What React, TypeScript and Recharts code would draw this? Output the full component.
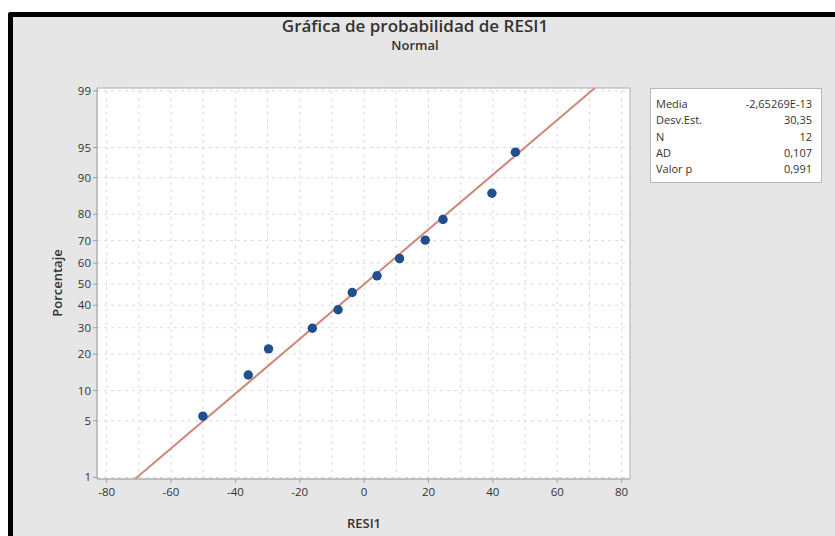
import React from 'react';
import {
  ScatterChart,
  Scatter,
  XAxis,
  YAxis,
  CartesianGrid,
  ReferenceLine,
  ReferenceArea,
} from 'recharts';

// ---- data ----
const residuals = [-50.1, -36.0, -29.7, -16.1, -8.1, -3.7, 4.0, 11.0, 19.0, 24.5, 39.7, 47.0];
const percents = [5.6, 13.7, 21.8, 29.8, 37.9, 46.0, 54.0, 62.1, 70.2, 78.2, 86.3, 94.4];
const xTicks = [-80, -60, -40, -20, 0, 20, 40, 60, 80];
const xGrid = [-80, -70, -60, -50, -40, -30, -20, -10, 0, 10, 20, 30, 40, 50, 60, 70, 80];
const yTickPercents = [1, 5, 10, 20, 30, 40, 50, 60, 70, 80, 90, 95, 99];
const xDomain = [-83, 82.6];
const yDomainPercent = [0.95, 99.09];
const fitMean = -2.65269e-13;
const fitSd = 30.35;
const statLabels = ['Media', 'Desv.Est.', 'N', 'AD', 'Valor p'];
const statValues = ['-2,65269E-13', '30,35', '12', '0,107', '0,991'];

// inverse of the standard normal CDF (probability-scale transform)
function probit(p: number): number {
  const a = [-3.969683028665376e1, 2.209460984245205e2, -2.759285104469687e2, 1.38357751867269e2, -3.066479806614716e1, 2.506628277459239];
  const b = [-5.447609879822406e1, 1.615858368580409e2, -1.556989798598866e2, 6.680131188771972e1, -1.328068155288572e1];
  const c = [-7.784894002430293e-3, -3.223964580411365e-1, -2.400758277161838, -2.549732539343734, 4.374664141464968, 2.938163982698783];
  const d = [7.784695709041462e-3, 3.224671290700398e-1, 2.445134137142996, 3.754408661907416];
  const pl = 0.02425;
  const ph = 1 - pl;
  if (p < pl) {
    const q = Math.sqrt(-2 * Math.log(p));
    return (((((c[0] * q + c[1]) * q + c[2]) * q + c[3]) * q + c[4]) * q + c[5]) / ((((d[0] * q + d[1]) * q + d[2]) * q + d[3]) * q + 1);
  }
  if (p > ph) {
    const q = Math.sqrt(-2 * Math.log(1 - p));
    return -(((((c[0] * q + c[1]) * q + c[2]) * q + c[3]) * q + c[4]) * q + c[5]) / ((((d[0] * q + d[1]) * q + d[2]) * q + d[3]) * q + 1);
  }
  const q = p - 0.5;
  const r = q * q;
  return ((((((a[0] * r + a[1]) * r + a[2]) * r + a[3]) * r + a[4]) * r + a[5]) * q) / (((((b[0] * r + b[1]) * r + b[2]) * r + b[3]) * r + b[4]) * r + 1);
}

const pts = residuals.map((x, i) => ({ x, z: probit(percents[i] / 100) }));
const yTickZ = yTickPercents.map((p) => probit(p / 100));
const yDomain = yDomainPercent.map((p) => probit(p / 100));
const fitSegment = [
  { x: fitMean + fitSd * yDomain[0], y: yDomain[0] },
  { x: fitMean + fitSd * yDomain[1], y: yDomain[1] },
];

const FONT = '"Open Sans", "Noto Sans", sans-serif';
const TXT = '#333333';

const Dot = (props: any) => {
  const { cx, cy } = props;
  if (cx == null || cy == null) return null;
  return <circle cx={cx} cy={cy} r={4.7} fill="#1f4f8f" />;
};

export default function App() {
  return (
    <div
      style={{
        position: 'absolute',
        left: 0,
        top: 0,
        width: 835,
        height: 536,
        overflow: 'hidden',
        background: '#ffffff',
        fontFamily: FONT,
      }}
    >
      <div
        style={{
          position: 'absolute',
          left: 8,
          top: 12,
          width: 840,
          height: 540,
          borderLeft: '5px solid #000',
          borderTop: '5px solid #000',
          borderTopLeftRadius: 3,
          background: '#e6e6e6',
        }}
      />
      <div style={{ position: 'absolute', left: 0, top: 0 }}>
        <ScatterChart width={835} height={536} margin={{ top: 88, right: 205, bottom: 27, left: 0 }}>
          <CartesianGrid
            fill="#ffffff"
            vertical={false}
            stroke="#dadada"
            strokeDasharray="3 4"
          />
          {xGrid.map((v) => (
            <ReferenceLine key={v} x={v} stroke="#dadada" strokeDasharray="3 4" />
          ))}
          <XAxis
            type="number"
            dataKey="x"
            domain={xDomain}
            ticks={xTicks}
            allowDataOverflow
            height={30}
            tickSize={4}
            axisLine={{ stroke: '#b0b0b0' }}
            tickLine={{ stroke: '#a0a0a0' }}
            tick={{ fill: TXT, fontSize: 11.5, fontFamily: FONT, dy: 3 }}
            interval={0}
          />
          <YAxis
            type="number"
            dataKey="z"
            domain={yDomain}
            ticks={yTickZ}
            allowDataOverflow
            width={97}
            tickSize={4}
            axisLine={{ stroke: '#b0b0b0' }}
            tickLine={{ stroke: '#a0a0a0' }}
            tick={{ fill: TXT, fontSize: 11.5, fontFamily: FONT }}
            interval={0}
            tickFormatter={(v: number) => {
              const i = yTickZ.findIndex((z) => Math.abs(z - v) < 1e-6);
              return i >= 0 ? String(yTickPercents[i]) : '';
            }}
          />
          <ReferenceArea
            x1={xDomain[0]}
            x2={xDomain[1]}
            y1={yDomain[0]}
            y2={yDomain[1]}
            fill="none"
            stroke="#b0b0b0"
            ifOverflow="visible"
          />
          <ReferenceLine
            segment={fitSegment}
            stroke="#cf877c"
            strokeWidth={2}
            ifOverflow="visible"
          />
          <Scatter data={pts} shape={Dot} isAnimationActive={false} />
        </ScatterChart>
      </div>

      {/* titles */}
      <div
        style={{
          position: 'absolute',
          left: 0,
          top: 14,
          width: 830,
          textAlign: 'center',
          fontSize: 17,
          fontWeight: 600,
          color: '#333',
          lineHeight: '24px',
        }}
      >
        Gráfica de probabilidad de RESI1
      </div>
      <div
        style={{
          position: 'absolute',
          left: 0,
          top: 36,
          width: 830,
          textAlign: 'center',
          fontSize: 13,
          fontWeight: 600,
          color: '#333',
          lineHeight: '18px',
        }}
      >
        Normal
      </div>

      {/* axis titles */}
      <div
        style={{
          position: 'absolute',
          left: 57 - 60,
          top: 283 - 10,
          width: 120,
          height: 20,
          lineHeight: '20px',
          textAlign: 'center',
          transform: 'rotate(-90deg)',
          fontSize: 13,
          fontWeight: 600,
          color: '#333',
        }}
      >
        Porcentaje
      </div>
      <div
        style={{
          position: 'absolute',
          left: 364 - 60,
          top: 513,
          width: 120,
          lineHeight: '20px',
          textAlign: 'center',
          fontSize: 13,
          fontWeight: 600,
          color: '#333',
        }}
      >
        RESI1
      </div>

      {/* stats box */}
      <div
        style={{
          position: 'absolute',
          left: 650,
          top: 88,
          width: 172,
          height: 95,
          boxSizing: 'border-box',
          background: '#fff',
          border: '1px solid #b8b8b8',
          padding: '7px 9px 0 5px',
          fontSize: 11,
          color: TXT,
        }}
      >
        {statLabels.map((l, i) => (
          <div
            key={l}
            style={{ display: 'flex', justifyContent: 'space-between', lineHeight: '16.3px' }}
          >
            <span>{l}</span>
            <span>{statValues[i]}</span>
          </div>
        ))}
      </div>
    </div>
  );
}
